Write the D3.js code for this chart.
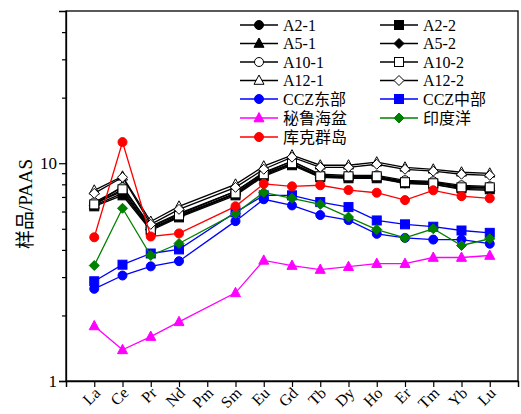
<!DOCTYPE html>
<html>
<head>
<meta charset="utf-8">
<script src="https://cdn.jsdelivr.net/npm/d3@7"></script>
<style>
  body { margin: 0; background: #fff; }
  text { font-family: "Liberation Serif", "Noto Sans CJK SC", serif; }
</style>
</head>
<body>
<div id="chart"></div>
<script>
// REE elements (Pm has no data, lines jump over it)
const elements = ["La", "Ce", "Pr", "Nd", "Pm", "Sm", "Eu", "Gd", "Tb", "Dy", "Ho", "Er", "Tm", "Yb", "Lu"];

const a2_1  = [6.54, 7.43, 5.02, 5.70, null, 7.20, 8.80, 9.89, 8.71, 8.62, 8.62, 8.18, 8.18, 7.75, 7.67];
const a2_2  = [6.34, 7.12, 4.91, 5.64, null, 7.12, 8.71, 9.79, 8.62, 8.53, 8.53, 8.09, 8.00, 7.67, 7.59];
const a5_1  = [6.47, 7.83, 5.13, 5.88, null, 7.43, 9.09, 10.21, 8.80, 8.71, 8.71, 8.26, 8.18, 7.83, 7.75];
const a5_2  = [6.40, 7.27, 4.96, 5.70, null, 7.27, 8.90, 10.0, 8.62, 8.62, 8.62, 8.09, 8.00, 7.59, 7.51];
const a10_1 = [6.61, 7.75, 5.07, 5.82, null, 7.43, 8.99, 10.21, 8.90, 8.80, 8.80, 8.35, 8.26, 7.92, 7.83];
const a10_2 = [6.47, 7.59, 4.96, 5.76, null, 7.27, 8.90, 10.0, 8.71, 8.71, 8.71, 8.18, 8.09, 7.75, 7.75];
const a12_1 = [7.51, 8.71, 5.40, 6.34, null, 8.00, 9.69, 10.89, 9.79, 9.79, 10.11, 9.58, 9.38, 9.09, 8.99];
const a12_2 = [7.27, 8.62, 5.24, 6.14, null, 7.75, 9.38, 10.66, 9.58, 9.58, 9.89, 9.38, 9.19, 8.90, 8.80];
const cczEast  = [2.65, 3.05, 3.36, 3.55, null, 5.42, 6.83, 6.40, 5.78, 5.48, 4.74, 4.54, 4.46, 4.46, 4.27];
const cczMid   = [2.87, 3.42, 3.85, 4.02, null, 5.95, 7.12, 7.12, 6.63, 6.29, 5.46, 5.24, 5.11, 4.91, 4.79];
const peru     = [1.79, 1.39, 1.60, 1.87, null, 2.54, 3.58, 3.39, 3.25, 3.35, 3.46, 3.46, 3.69, 3.69, 3.77];
const india    = [3.39, 6.21, 3.77, 4.28, null, 5.88, 7.35, 6.90, 6.47, 5.66, 4.96, 4.54, 5.00, 4.19, 4.50];
const cook     = [4.57, 12.5, 4.61, 4.76, null, 6.34, 8.04, 7.83, 7.92, 7.53, 7.32, 6.77, 7.51, 7.06, 6.90];

const seriesNames = ["A2-1", "A2-2", "A5-1", "A5-2", "A10-1", "A10-2", "A12-1", "A12-2",
                     "CCZ东部", "CCZ中部", "秘鲁海盆", "印度洋", "库克群岛"];
const seriesValues = [a2_1, a2_2, a5_1, a5_2, a10_1, a10_2, a12_1, a12_2, cczEast, cczMid, peru, india, cook];
const seriesColors = ["#000", "#000", "#000", "#000", "#000", "#000", "#000", "#000",
                      "#0000ff", "#0000ff", "#ff00ff", "#008000", "#ff0000"];
const seriesShapes = ["circle", "square", "triangle", "diamond", "circle", "square", "triangle", "diamond",
                      "circle", "square", "triangle", "diamond", "circle"];
const seriesFilled = [true, true, true, true, false, false, false, false, true, true, true, true, true];

const yMajor = [1, 10];
const yMinor = [2, 3, 4, 5, 6, 7, 8, 9, 20, 30, 40];

const width = 521, height = 414;
const margin = { left: 66, right: 3, top: 11, bottom: 33 };

const svg = d3.select("#chart").append("svg")
    .attr("width", width)
    .attr("height", height);

const x = d3.scaleLinear().domain([0, elements.length + 1]).range([margin.left, width - margin.right]);
const y = d3.scaleLog().domain([1, 50]).range([height - margin.bottom, margin.top]);

// frame
svg.append("rect")
    .attr("x", margin.left).attr("y", margin.top)
    .attr("width", width - margin.right - margin.left)
    .attr("height", height - margin.bottom - margin.top)
    .attr("fill", "none").attr("stroke", "#000").attr("stroke-width", 1.3);

// x axis
const xAxis = svg.append("g")
    .attr("transform", `translate(0,${height - margin.bottom})`)
    .call(d3.axisBottom(x).tickValues(d3.range(0, elements.length + 2)).tickSize(6).tickFormat(""));
xAxis.select(".domain").attr("stroke-width", 1.3);
xAxis.selectAll(".tick line").attr("stroke-width", 1.2);

svg.selectAll(".xlabel")
    .data(elements)
    .enter().append("text")
    .attr("class", "xlabel")
    .attr("transform", (d, i) => `translate(${x(i + 1) + 3},${height - margin.bottom + 9}) rotate(-45)`)
    .attr("text-anchor", "end")
    .attr("dy", "0.35em")
    .attr("font-size", 16)
    .text(d => d);

// y axis
const yAxis = svg.append("g")
    .attr("transform", `translate(${margin.left},0)`)
    .call(d3.axisLeft(y).tickValues(yMajor).tickSize(7).tickFormat(d3.format("d")));
yAxis.select(".domain").attr("stroke-width", 1.3);
yAxis.selectAll(".tick line").attr("stroke-width", 1.2);
yAxis.selectAll(".tick text").attr("font-size", 17).attr("x", -9)
    .style("font-family", "Liberation Serif");

svg.append("g")
    .attr("transform", `translate(${margin.left},0)`)
    .call(d3.axisLeft(y).tickValues(yMinor).tickSize(4).tickFormat(""))
    .call(g => g.select(".domain").remove())
    .selectAll(".tick line").attr("stroke-width", 1.2);

svg.append("text")
    .attr("transform", `translate(25,${(margin.top + height - margin.bottom) / 2 + 8}) rotate(-90)`)
    .attr("text-anchor", "middle")
    .attr("dy", "0.35em")
    .attr("font-size", 19)
    .text("样品/PAAS");

// markers
function drawMarker(g, shape, filled, color) {
    const fill = filled ? color : "#fff";
    if (shape === "circle") {
        g.append("circle").attr("r", 4.5);
    } else if (shape === "square") {
        g.append("rect").attr("x", -4.5).attr("y", -4.5).attr("width", 9).attr("height", 9);
    } else if (shape === "triangle") {
        g.append("path").attr("d", "M0,-5.5L5,3.8L-5,3.8Z");
    } else {
        g.append("path").attr("d", "M0,-5L5,0L0,5L-5,0Z");
    }
    g.selectAll("*").attr("fill", fill).attr("stroke", color).attr("stroke-width", 1);
}

const line = d3.line()
    .defined(d => d.v != null)
    .x(d => x(d.i + 1))
    .y(d => y(d.v));

seriesValues.forEach((vals, s) => {
    const pts = vals.map((v, i) => ({ i: i, v: v })).filter(d => d.v != null);
    const g = svg.append("g");
    g.append("path")
        .datum(pts)
        .attr("d", line)
        .attr("fill", "none")
        .attr("stroke", seriesColors[s])
        .attr("stroke-width", 1.3);
    pts.forEach(d => {
        const m = g.append("g").attr("transform", `translate(${x(d.i + 1)},${y(d.v)})`);
        drawMarker(m, seriesShapes[s], seriesFilled[s], seriesColors[s]);
    });
});

// legend, two columns
const legendRows = [25, 43.5, 62, 80.5, 99, 118, 137];
const legendCols = [240, 380];
seriesNames.forEach((name, s) => {
    const col = s % 2, row = Math.floor(s / 2);
    const lg = svg.append("g")
        .attr("transform", `translate(${legendCols[col]},${legendRows[row]})`);
    lg.append("line")
        .attr("x1", 0).attr("x2", 38)
        .attr("stroke", seriesColors[s]).attr("stroke-width", 1.3);
    const m = lg.append("g").attr("transform", "translate(19,0)");
    drawMarker(m, seriesShapes[s], seriesFilled[s], seriesColors[s]);
    lg.append("text")
        .attr("x", 43)
        .attr("dy", "0.35em")
        .attr("font-size", 16)
        .text(name);
});
</script>
</body>
</html>
